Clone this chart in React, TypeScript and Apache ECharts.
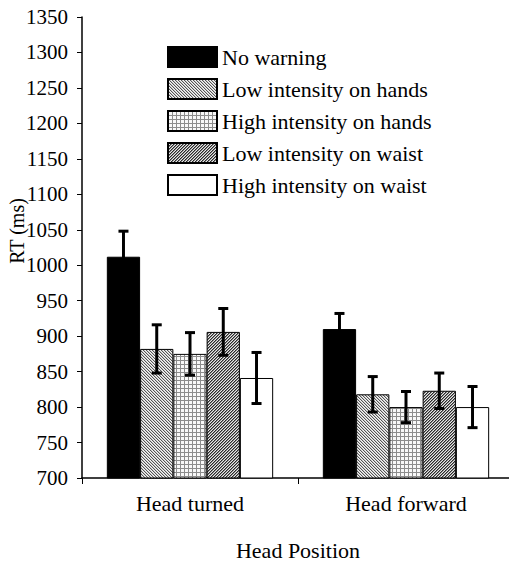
import React, { useEffect, useRef } from "react";
import * as echarts from "echarts";

const categories = ["Head turned", "Head forward"];
const seriesNames = [
  "No warning",
  "Low intensity on hands",
  "High intensity on hands",
  "Low intensity on waist",
  "High intensity on waist",
];
const noWarning = [1012, 910];
const lowHands = [882, 818];
const highHands = [875, 800];
const lowWaist = [906, 823];
const highWaist = [841, 800];
const noWarningErr = [36, 22];
const lowHandsErr = [34, 25];
const highHandsErr = [30, 22];
const lowWaistErr = [33, 25];
const highWaistErr = [36, 29];
const yTicks = { min: 700, max: 1350, interval: 50 };

const FONT = "Liberation Serif";

function makePattern(kind: string) {
  const size = kind === "grid" ? 8 : 6;
  const c = document.createElement("canvas");
  c.width = size;
  c.height = size;
  const ctx = c.getContext("2d")!;
  for (let x = 0; x < size; x++) {
    for (let y = 0; y < size; y++) {
      let col = "#ffffff";
      if (kind === "back") {
        const m = (((x - y) % 3) + 3) % 3;
        col = m === 0 ? "#555555" : m === 1 ? "#c8c8c8" : "#f6f6f6";
      } else if (kind === "fwd") {
        const m = (x + y) % 3;
        col = m === 0 ? "#2a2a2a" : m === 1 ? "#8a8a8a" : "#e8e8e8";
      } else if (kind === "grid") {
        if (x % 4 === 0 || y % 4 === 0) col = "#8c8c8c";
        else col = "#f8f8f8";
      }
      ctx.fillStyle = col;
      ctx.fillRect(x, y, 1, 1);
    }
  }
  return { image: c, repeat: "repeat", imageWidth: size, imageHeight: size } as any;
}

export default function App() {
  const ref = useRef<HTMLDivElement>(null);
  useEffect(() => {
    const chart = echarts.init(ref.current!, null, { renderer: "svg" });
    const means = [noWarning, lowHands, highHands, lowWaist, highWaist];
    const errs = [noWarningErr, lowHandsErr, highHandsErr, lowWaistErr, highWaistErr];
    const fills: any[] = [
      "#000000",
      makePattern("back"),
      makePattern("grid"),
      makePattern("fwd"),
      "#ffffff",
    ];
    const nSeries = means.length;
    const catGap = 0.23;

    const barSeries = means.map((vals, i) => ({
      name: seriesNames[i],
      type: "bar",
      data: vals,
      barGap: "0%",
      barCategoryGap: "23%",
      itemStyle: { color: fills[i], borderColor: "#000", borderWidth: 1 },
      emphasis: { disabled: true },
      z: 2,
    }));

    const errSeries = means.map((vals, i) => ({
      type: "custom",
      name: seriesNames[i] + " error",
      data: vals.map((v, k) => [k, v, errs[i][k]]),
      z: 5,
      renderItem: (params: any, api: any) => {
        const cat = api.value(0);
        const v = api.value(1);
        const e = api.value(2);
        const band = api.size([1, 0])[0];
        const bw = (band * (1 - catGap)) / nSeries;
        const center = api.coord([cat, v]);
        const x = center[0] + (i - (nSeries - 1) / 2) * bw;
        const yTop = api.coord([cat, v + e])[1];
        const yBot = api.coord([cat, v - e])[1];
        const cap = 5;
        const st = { stroke: "#000", lineWidth: 3 };
        return {
          type: "group",
          children: [
            { type: "line", shape: { x1: x, y1: yTop, x2: x, y2: yBot }, style: st },
            { type: "line", shape: { x1: x - cap, y1: yTop, x2: x + cap, y2: yTop }, style: st },
            { type: "line", shape: { x1: x - cap, y1: yBot, x2: x + cap, y2: yBot }, style: st },
          ],
        };
      },
    }));

    chart.setOption({
      animation: false,
      grid: { left: 82, top: 17, bottom: 78, right: 0 },
      legend: {
        data: seriesNames,
        orient: "vertical",
        left: 167,
        top: 46,
        padding: 0,
        itemWidth: 49,
        itemHeight: 20,
        itemGap: 10,
        icon: "rect",
        textStyle: { fontFamily: FONT, fontSize: 22, color: "#000" },
        selectedMode: false,
      },
      xAxis: {
        type: "category",
        data: categories,
        name: "Head Position",
        nameLocation: "middle",
        nameGap: 61,
        nameTextStyle: { fontFamily: FONT, fontSize: 22, color: "#000" },
        axisLine: { lineStyle: { color: "#000", width: 1.5 } },
        axisTick: { show: true, length: 6, lineStyle: { color: "#000" } },
        axisLabel: { fontFamily: FONT, fontSize: 22, color: "#000", margin: 14 },
      },
      yAxis: {
        type: "value",
        min: yTicks.min,
        max: yTicks.max,
        interval: yTicks.interval,
        splitLine: { show: false },
        axisLine: { show: true, lineStyle: { color: "#000", width: 1.5 } },
        axisTick: { show: true, length: 5, lineStyle: { color: "#000" } },
        axisLabel: {
          fontFamily: FONT,
          fontSize: 21,
          color: "#000",
          margin: 14,
          formatter: (v: number) => String(v),
        },
      },
      graphic: [
        {
          type: "text",
          x: 17,
          y: 231,
          rotation: Math.PI / 2,
          style: {
            text: "RT (ms)",
            fontFamily: FONT,
            fontSize: 20,
            fill: "#000",
            align: "center",
            verticalAlign: "middle",
          },
        },
      ],
      series: [...barSeries, ...errSeries],
    });
    return () => chart.dispose();
  }, []);
  return (
    <div
      ref={ref}
      style={{ position: "fixed", left: 0, top: 0, width: 514, height: 566, background: "#fff" }}
    />
  );
}
